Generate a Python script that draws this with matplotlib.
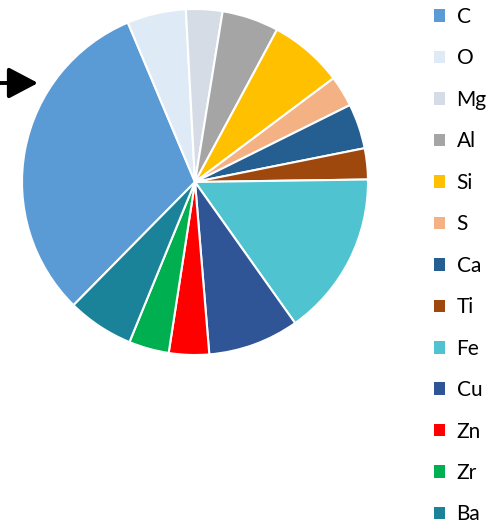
import matplotlib.pyplot as plt
from matplotlib.patches import Patch

# dados (percentuais estimados)
elementos = ['C', 'O', 'Mg', 'Al', 'Si', 'S', 'Ca', 'Ti', 'Fe', 'Cu', 'Zn', 'Zr', 'Ba']
valores = [31.25, 5.5, 3.4, 5.3, 6.9, 2.9, 4.2, 2.9, 15.4, 8.5, 3.75, 3.75, 6.2]
cores = ['#5B9BD5', '#DEEBF7', '#D6DCE5', '#A5A5A5', '#FFC000', '#F4B183',
         '#255E91', '#9E480E', '#4FC3CF', '#2F5597', '#FF0000', '#00B050', '#1A8299']

plt.rcParams['font.family'] = ['Lato', 'DejaVu Sans']

W, H = 495, 523
fig = plt.figure(figsize=(W / 100, H / 100), dpi=100, facecolor='white')

# pizza: centro (195, 182) px, raio 173 px
cx, cy, r = 195, 182, 173
lim = 1.05
half = r * lim
ax = fig.add_axes([(cx - half) / W, (H - cy - half) / H, 2 * half / W, 2 * half / H])

inicio = 90 - 224.6  # C começa a 224.6 graus (sentido horário a partir do topo)
wedges, _ = ax.pie(valores, colors=cores, startangle=inicio, counterclock=False,
                   wedgeprops={'edgecolor': 'white', 'linewidth': 1.5})
ax.set_xlim(-lim, lim)
ax.set_ylim(-lim, lim)
ax.set_aspect('equal')

# seta preta à esquerda
ax.annotate('', xy=(38, H - 83), xycoords='figure pixels',
            xytext=(-5, H - 83), textcoords='figure pixels',
            arrowprops=dict(arrowstyle='-|>,head_length=1.8,head_width=0.95',
                            color='black', lw=2.8, mutation_scale=10,
                            shrinkA=0, shrinkB=0))

# legenda lateral
handles = [Patch(facecolor=c, edgecolor='none') for c in cores]
fig.legend(handles, elementos, loc='upper left',
           bbox_to_anchor=(434 / W, 1 - 7 / H), frameon=False,
           fontsize=15, handlelength=0.55, handleheight=0.55,
           handletextpad=0.53, labelspacing=1.03, borderpad=0, borderaxespad=0)

plt.savefig('out.png', dpi=100)
